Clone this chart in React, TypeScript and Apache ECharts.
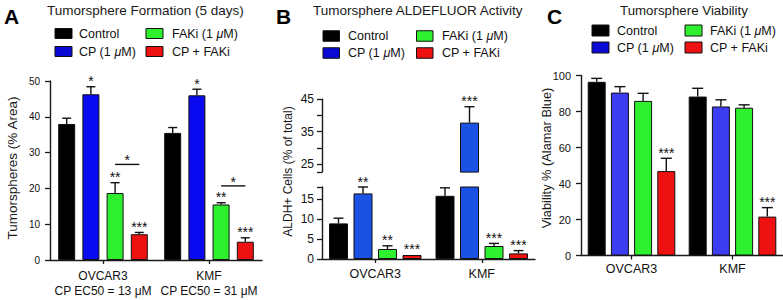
import React, { useEffect, useRef } from 'react';
import * as echarts from 'echarts';

const FONT = "'Liberation Sans', Arial, Helvetica, sans-serif";

const categories = ['OVCAR3', 'KMF'];
const groupNames = ['Control', 'CP (1 μM)', 'FAKi (1 μM)', 'CP + FAKi'];
const ec50Labels = ['CP EC50 = 13 μM', 'CP EC50 = 31 μM'];

// Panel A – Tumorsphere Formation (5 days)
const formationControl = [38.0, 35.5];
const formationCP = [46.3, 46.0];
const formationFAKi = [18.7, 15.5];
const formationCombo = [7.2, 5.1];
const formationControlErr = [1.6, 1.5];
const formationCPErr = [2.1, 1.7];
const formationFAKiErr = [2.9, 0.5];
const formationComboErr = [0.5, 1.1];
const formationStars = [['', ''], ['*', '*'], ['**', '**'], ['***', '***']];
const formationBracketY = [26.7, 20.7];
const formationBracketStar = ['*', '*'];

// Panel B – Tumorsphere ALDEFLUOR Activity (broken axis)
const aldhLowerTicks = [0, 5, 10, 15];
const aldhUpperTicks = [25, 35, 45];
const aldhUpperMinorTicks = [30, 40];
const aldhLowerMax = 18;
const aldhUpperMin = 22.5;
const aldhUpperMax = 45;
const aldhControl = [8.9, 15.8];
const aldhCP = [16.4, 37.8];
const aldhFAKi = [2.5, 3.25];
const aldhCombo = [1.0, 1.4];
const aldhControlErr = [1.3, 2.0];
const aldhCPErr = [1.6, 4.9];
const aldhFAKiErr = [0.8, 0.65];
const aldhComboErr = [0.1, 0.7];
const aldhStars = [['', ''], ['**', '***'], ['**', '***'], ['***', '***']];

// Panel C – Tumorsphere Viability
const viabControl = [96.5, 88.3];
const viabCP = [90.5, 82.8];
const viabFAKi = [85.9, 82.1];
const viabCombo = [46.9, 21.6];
const viabControlErr = [1.9, 4.6];
const viabCPErr = [3.3, 3.7];
const viabFAKiErr = [4.2, 1.6];
const viabComboErr = [7.1, 5.0];
const viabStars = [['', ''], ['', ''], ['', ''], ['***', '***']];

const colorsA = ['#000000', '#0a0af0', '#2ef02e', '#ee1111'];
const colorsB = ['#000000', '#1c52e4', '#2ef02e', '#ee1111'];
const colorsC = ['#000000', '#3c3cf0', '#2ef02e', '#ee1111'];
const legendColors = ['#000000', '#0a0ad4', '#2ef02e', '#ee1111'];

const AXIS_COLOR = '#1a1a1a';

function barSeries(xi: number, yi: number, means: number[][], colors: string[], barW: number, gapPct: string, keep?: (v: number) => boolean) {
  return means.map((arr, s) => ({
    type: 'bar',
    name: groupNames[s],
    xAxisIndex: xi,
    yAxisIndex: yi,
    barWidth: barW,
    barGap: gapPct,
    clip: true,
    z: 2,
    data: arr.map((v) => (keep && !keep(v) ? '-' : v)),
    itemStyle: { color: colors[s], borderColor: '#111', borderWidth: 1 },
  }));
}

function errorSeries(xi: number, yi: number, means: number[][], errs: number[][], stars: string[][], barW: number, gap: number, capHalf: number, keep: (v: number) => boolean) {
  const items: any[] = [];
  means.forEach((arr, s) =>
    arr.forEach((v, c) => {
      if (keep(v)) items.push({ c, s, v, e: errs[s][c], star: stars[s][c] });
    })
  );
  return {
    type: 'custom',
    xAxisIndex: xi,
    yAxisIndex: yi,
    z: 5,
    silent: true,
    clip: false,
    data: items.map((d) => [d.c, d.v + d.e]),
    renderItem: (params: any, api: any) => {
      const d = items[params.dataIndex];
      const base = api.coord([d.c, d.v]);
      const top = api.coord([d.c, d.v + d.e]);
      const x = base[0] + (d.s - 1.5) * (barW + gap);
      const children: any[] = [];
      const ls = { stroke: '#111', lineWidth: 1.4 };
      if (d.e > 0.15) {
        children.push({ type: 'line', shape: { x1: x, y1: base[1], x2: x, y2: top[1] }, style: ls });
        children.push({ type: 'line', shape: { x1: x - capHalf, y1: top[1], x2: x + capHalf, y2: top[1] }, style: ls });
      }
      if (d.star) {
        children.push({
          type: 'text',
          x,
          y: top[1] - 5.5,
          style: { text: d.star, textAlign: 'center', textVerticalAlign: 'middle', fontSize: 14, fontFamily: FONT, fill: '#111' },
        });
      }
      return { type: 'group', children };
    },
  };
}

function bracketSeries(xi: number, yi: number, ys: number[], labels: string[], barW: number, gap: number) {
  return {
    type: 'custom',
    xAxisIndex: xi,
    yAxisIndex: yi,
    z: 5,
    silent: true,
    clip: false,
    data: ys.map((y, c) => [c, y]),
    renderItem: (params: any, api: any) => {
      const c = params.dataIndex;
      const p = api.coord([c, ys[c]]);
      const x1 = p[0] + (2 - 1.5) * (barW + gap);
      const x2 = p[0] + (3 - 1.5) * (barW + gap);
      return {
        type: 'group',
        children: [
          { type: 'line', shape: { x1, y1: p[1], x2, y2: p[1] }, style: { stroke: '#111', lineWidth: 1.4 } },
          {
            type: 'text',
            x: (x1 + x2) / 2,
            y: p[1] - 4,
            style: { text: labels[c], textAlign: 'center', textVerticalAlign: 'middle', fontSize: 14, fontFamily: FONT, fill: '#111' },
          },
        ],
      };
    },
  };
}

function xAxisCfg(gridIndex: number, show: boolean, fontSize: number, margin: number, extra: any = {}) {
  return {
    type: 'category',
    gridIndex,
    data: categories,
    show,
    axisLine: { show: true, lineStyle: { color: AXIS_COLOR, width: 1.4 } },
    axisTick: { show: true, alignWithLabel: true, length: 4, lineStyle: { color: AXIS_COLOR, width: 1.3 } },
    axisLabel: { fontSize, margin, interval: 0, hideOverlap: false, color: '#111', fontFamily: FONT, ...extra },
  };
}

function yAxisCfg(gridIndex: number, min: number, max: number, fontSize: number, margin: number, extra: any = {}) {
  return {
    type: 'value',
    gridIndex,
    min,
    max,
    splitLine: { show: false },
    axisLine: { show: true, lineStyle: { color: AXIS_COLOR, width: 1.4 } },
    axisTick: { show: true, length: 5, lineStyle: { color: AXIS_COLOR, width: 1.3 }, ...(extra.tick || {}) },
    axisLabel: { fontSize, margin, color: '#111', fontFamily: FONT, ...(extra.label || {}) },
    ...(extra.axis || {}),
  };
}

function legendBlock(col1: number, col2: number, textX1: number, textX2: number, rows: number[], w: number, h: number) {
  const els: any[] = [];
  groupNames.forEach((name, i) => {
    const col = i === 0 || i === 1 ? 0 : 1;
    const row = i === 0 || i === 2 ? 0 : 1;
    const rx = col === 0 ? col1 : col2;
    const tx = col === 0 ? textX1 : textX2;
    const cy = rows[row];
    els.push({ type: 'rect', shape: { x: rx, y: cy - h / 2, width: w, height: h }, style: { fill: legendColors[i], stroke: '#111', lineWidth: 1 } });
    els.push({
      type: 'text',
      x: tx,
      y: cy,
      style: {
        text: name.replace('μ', '{i|μ}'),
        rich: { i: { fontStyle: 'italic', fontSize: 12.5, fontFamily: FONT, fill: '#111' } },
        textAlign: 'left',
        textVerticalAlign: 'middle',
        fontSize: 12.5,
        fontFamily: FONT,
        fill: '#111',
      },
    });
  });
  return els;
}

function textEl(text: string, x: number, y: number, fontSize: number, opts: any = {}) {
  return {
    type: 'text',
    x,
    y,
    rotation: opts.rotation || 0,
    style: {
      text,
      fontSize,
      fontFamily: FONT,
      fontWeight: opts.bold ? 'bold' : 'normal',
      fill: opts.fill || '#1a1a1a',
      textAlign: opts.align || 'left',
      textVerticalAlign: 'middle',
    },
  };
}

export default function App() {
  const ref = useRef<HTMLDivElement>(null);
  useEffect(() => {
    if (!ref.current) return;
    const chart = echarts.init(ref.current, null, { renderer: 'svg' });

    const formationMeans = [formationControl, formationCP, formationFAKi, formationCombo];
    const formationErrs = [formationControlErr, formationCPErr, formationFAKiErr, formationComboErr];
    const aldhMeans = [aldhControl, aldhCP, aldhFAKi, aldhCombo];
    const aldhErrs = [aldhControlErr, aldhCPErr, aldhFAKiErr, aldhComboErr];
    const viabMeans = [viabControl, viabCP, viabFAKi, viabCombo];
    const viabErrs = [viabControlErr, viabCPErr, viabFAKiErr, viabComboErr];

    const A_BW = 17, A_GAP = 7.2;
    const B_BW = 19, B_GAP = 5.5;
    const C_BW = 18, C_GAP = 5.2;

    const option: any = {
      animation: false,
      backgroundColor: '#ffffff',
      textStyle: { fontFamily: FONT },
      grid: [
        { left: 50, top: 81, width: 212, height: 179 },
        { left: 322, top: 187, width: 213, height: 72 },
        { left: 322, top: 99.3, width: 213, height: 72.8 },
        { left: 581, top: 75.5, width: 202, height: 180 },
      ],
      xAxis: [
        xAxisCfg(0, true, 12, 8, {
          lineHeight: 15,
          formatter: (v: string, i: number) => `${v}\n{s|${ec50Labels[i]}}`,
          rich: { s: { fontSize: 12, lineHeight: 15, fontFamily: FONT, color: '#111' } },
        }),
        xAxisCfg(1, true, 12.5, 8),
        xAxisCfg(2, false, 12.5, 8),
        xAxisCfg(3, true, 12.5, 7),
      ],
      yAxis: [
        yAxisCfg(0, 0, 50, 10, 10, { axis: { interval: 10 } }),
        yAxisCfg(1, 0, aldhLowerMax, 12, 8, {
          tick: { customValues: [...aldhLowerTicks, aldhLowerMax] },
          label: { customValues: aldhLowerTicks },
        }),
        yAxisCfg(2, aldhUpperMin, aldhUpperMax, 12, 8, {
          tick: { customValues: [aldhUpperMin, ...aldhUpperTicks, ...aldhUpperMinorTicks] },
          label: { customValues: aldhUpperTicks },
        }),
        yAxisCfg(3, 0, 100, 11, 10, { axis: { interval: 20 } }),
      ],
      series: [
        ...barSeries(0, 0, formationMeans, colorsA, A_BW, `${(A_GAP / A_BW) * 100}%`),
        errorSeries(0, 0, formationMeans, formationErrs, formationStars, A_BW, A_GAP, 4.5, () => true),
        bracketSeries(0, 0, formationBracketY, formationBracketStar, A_BW, A_GAP),
        ...barSeries(1, 1, aldhMeans, colorsB, B_BW, `${(B_GAP / B_BW) * 100}%`),
        ...barSeries(2, 2, aldhMeans, colorsB, B_BW, `${(B_GAP / B_BW) * 100}%`, (v) => v > aldhLowerMax),
        errorSeries(1, 1, aldhMeans, aldhErrs, aldhStars, B_BW, B_GAP, 5, (v) => v <= aldhLowerMax),
        errorSeries(2, 2, aldhMeans, aldhErrs, aldhStars, B_BW, B_GAP, 5, (v) => v > aldhLowerMax),
        ...barSeries(3, 3, viabMeans, colorsC, C_BW, `${(C_GAP / C_BW) * 100}%`),
        errorSeries(3, 3, viabMeans, viabErrs, viabStars, C_BW, C_GAP, 5.5, () => true),
      ],
      graphic: {
        elements: [
          textEl('A', 4, 16.5, 21, { bold: true, fill: '#000' }),
          textEl('B', 276, 16.5, 21, { bold: true, fill: '#000' }),
          textEl('C', 547, 16.5, 21, { bold: true, fill: '#000' }),
          textEl('Tumorsphere Formation (5 days)', 47, 10.5, 13.5),
          textEl('Tumorsphere ALDEFLUOR Activity', 313, 10.5, 13.5),
          textEl('Tumorsphere Viability', 620, 10, 13.3),
          textEl('Tumorspheres (% Area)', 12.5, 168, 13.5, { rotation: Math.PI / 2, align: 'center' }),
          textEl('ALDH+ Cells (% of total)', 288, 171.5, 12, { rotation: Math.PI / 2, align: 'center' }),
          textEl('Viability % (Alamar Blue)', 546, 158, 12.8, { rotation: Math.PI / 2, align: 'center' }),
          ...legendBlock(55, 146, 79, 172, [33.5, 51.5], 17, 10),
          ...legendBlock(323, 416.5, 348, 442, [36, 53], 16.5, 10.5),
          ...legendBlock(592, 685, 617, 710, [30.5, 47.5], 17, 11),
        ],
      },
    };

    chart.setOption(option);
    return () => chart.dispose();
  }, []);

  return (
    <div
      ref={ref}
      style={{ position: 'absolute', left: 0, top: 0, width: 783, height: 300, background: '#fff' }}
    />
  );
}
